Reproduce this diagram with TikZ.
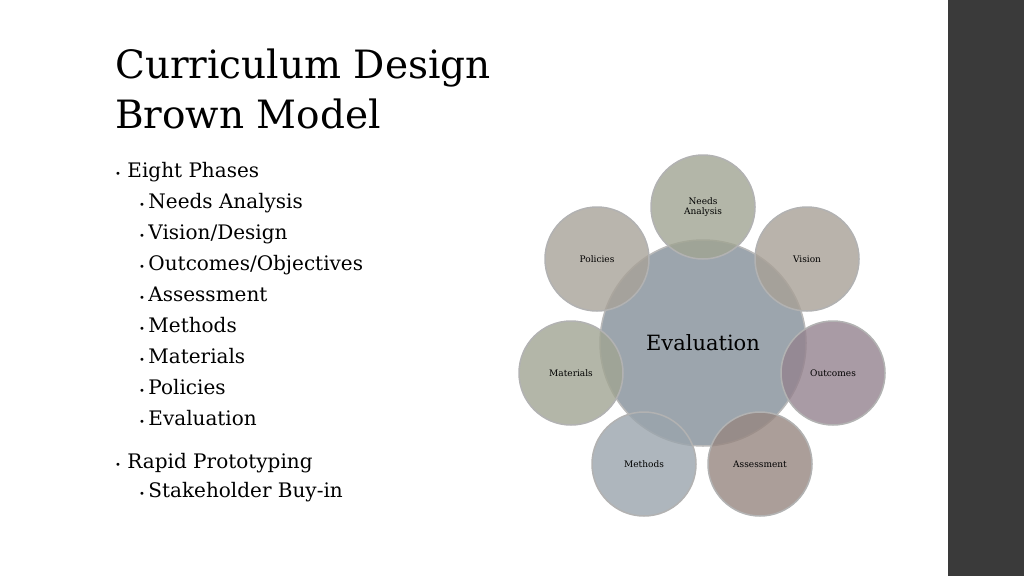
\documentclass[tikz,border=0pt]{standalone}
\usepackage{tikz}
\usepackage{fontspec}
\setmainfont{DejaVu Serif}
\definecolor{barcol}{HTML}{3A3A3A}
\definecolor{evalcol}{HTML}{9CA5AD}
\newcommand{\dotmark}{{\fontsize{10}{10}\selectfont\textbullet}}
\begin{document}
\begin{tikzpicture}
    [ x=1pt, y=-1pt,
      phase/.style={circle, minimum size=104pt, inner sep=0pt, draw=gray!60, line width=1.5pt,
                    fill opacity=0.8, text opacity=1, font=\fontsize{9}{10}\selectfont, align=center},
      bigone/.style={circle, minimum size=206pt, inner sep=0pt, draw=gray!55, line width=1.5pt, fill=evalcol},
      ttl/.style={anchor=base west, inner sep=0pt, font=\fontsize{39}{40}\selectfont},
      lvlone/.style={anchor=base west, inner sep=0pt, font=\fontsize{20}{22}\selectfont},
      lvltwo/.style={anchor=base west, inner sep=0pt, font=\fontsize{20}{22}\selectfont} ]

    \useasboundingbox (0,0) rectangle (1024,576);
    \fill[barcol] (948,0) rectangle (1024,576);

    \node[ttl] (t1) at (115,78) {Curriculum Design};
    \node[ttl] (t2) at (115,128) {Brown Model};

    \node[lvlone] (b1) at (115,177) {\dotmark\ Eight Phases};
    \foreach \txt [count=\i] in {Needs Analysis,Vision/Design,Outcomes/Objectives,Assessment,
                                 Methods,Materials,Policies,Evaluation}
        \node[lvltwo] (s\i) at (139,177+31*\i) {\dotmark\,\txt};
    \node[lvlone] (b2) at (115,468) {\dotmark\ Rapid Prototyping};
    \node[lvltwo] (s9) at (139,497) {\dotmark\,Stakeholder Buy-in};

    % center
    \node[bigone] (eval) at (703,343) {};
    \node[font=\fontsize{21}{22}\selectfont] at (703,343) {Evaluation};

    % phases around
    \node[phase, fill={rgb,255:red,160;green,164;blue,146}] (needs) at (703,207) {Needs\\Analysis};
    \node[phase, fill={rgb,255:red,168;green,160;blue,150}] (vision) at (807,259) {Vision};
    \node[phase, fill={rgb,255:red,148;green,130;blue,142}] (outc) at (833,373) {Outcomes};
    \node[phase, fill={rgb,255:red,150;green,134;blue,128}] (assess) at (760,464) {Assessment};
    \node[phase, fill={rgb,255:red,154;green,164;blue,172}] (meth) at (644,464) {Methods};
    \node[phase, fill={rgb,255:red,160;green,164;blue,146}] (mat) at (571,373) {Materials};
    \node[phase, fill={rgb,255:red,168;green,162;blue,152}] (pol) at (597,259) {Policies};

\end{tikzpicture}
\end{document}
